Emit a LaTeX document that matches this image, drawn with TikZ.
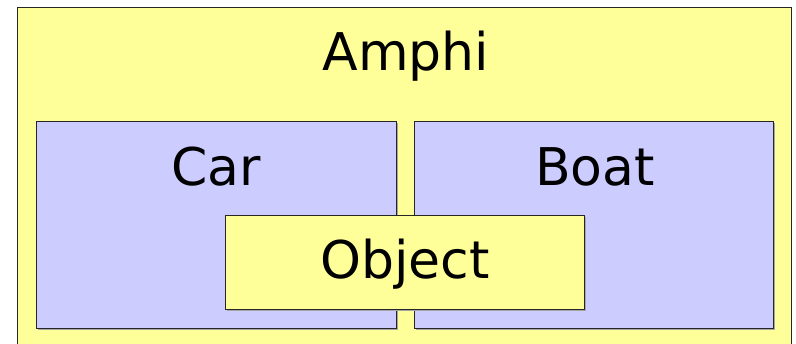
\documentclass[tikz,border=0pt]{standalone}
\usepackage{fontspec}
\setmainfont{DejaVu Sans}
\begin{document}
\begin{tikzpicture}[x=1pt,y=1pt,
  box/.style={draw=black!85,line width=1.1pt,rectangle,inner sep=0pt,anchor=north west},
  yellowbox/.style={box,fill={rgb,255:red,255;green,255;blue,153}},
  bluebox/.style={box,fill={rgb,255:red,204;green,204;blue,255}},
  shade/.style={fill=black!35,draw=none,rectangle,inner sep=0pt,anchor=north west},
  lbl/.style={font=\fontsize{52}{62}\selectfont,anchor=base,inner sep=0pt}]
\useasboundingbox (0,0) rectangle (796,-344);
\clip (0,0) rectangle (796,-344);
\fill[white] (0,0) rectangle (796,-344);
% outer container
\node[yellowbox,minimum width=774pt,minimum height=360pt] (amphi) at (17,-7) {};
% drop shadows
\node[shade,minimum width=360pt,minimum height=207pt] at (37.5,-122.5) {};
\node[shade,minimum width=359pt,minimum height=207pt] at (415.5,-122.5) {};
% inner boxes
\node[bluebox,minimum width=360pt,minimum height=207pt] (car) at (36,-121) {};
\node[bluebox,minimum width=359pt,minimum height=207pt] (boat) at (414,-121) {};
\node[shade,minimum width=359pt,minimum height=94pt] at (226.5,-216.5) {};
\node[yellowbox,minimum width=359pt,minimum height=94pt] (object) at (225,-215) {};
% labels
\node[lbl] (tamphi) at (406,-71) {Amphi};
\node[lbl] (tcar) at (216,-186) {Car};
\node[lbl] (tboat) at (595,-186) {Boat};
\node[lbl] (tobj) at (405,-279) {Object};
\end{tikzpicture}
\end{document}
